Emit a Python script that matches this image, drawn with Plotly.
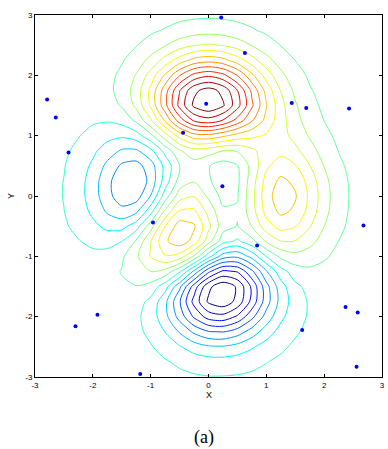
import plotly.graph_objects as go

# grid coordinates
x_vals = [-3 + 0.25 * i for i in range(25)]
y_vals = [-3 + 0.25 * j for j in range(25)]

# surface values (rows = y from -3 to 3, columns = x from -3 to 3)
z_rows = [
    [0.00,0.00,0.00,0.00,0.00,0.01,0.00,-0.01,-0.03,-0.08,-0.14,-0.20,-0.25,-0.25,-0.22,-0.17,-0.11,-0.06,-0.03,-0.01,0.00,0.00,0.00,0.00,0.00],
    [0.00,0.00,0.00,0.00,0.01,0.01,0.00,-0.02,-0.10,-0.22,-0.39,-0.56,-0.68,-0.69,-0.61,-0.46,-0.30,-0.17,-0.08,-0.03,-0.01,0.00,0.00,0.00,0.00],
    [0.00,0.00,0.00,0.01,0.01,0.02,0.00,-0.07,-0.23,-0.53,-0.92,-1.31,-1.57,-1.60,-1.41,-1.06,-0.69,-0.38,-0.18,-0.08,-0.03,-0.01,0.00,0.00,0.00],
    [0.00,0.00,0.01,0.01,0.03,0.04,0.01,-0.12,-0.44,-0.99,-1.74,-2.51,-3.02,-3.10,-2.72,-2.05,-1.32,-0.73,-0.35,-0.14,-0.05,-0.01,0.00,0.00,0.00],
    [0.00,0.00,0.01,0.02,0.05,0.07,0.05,-0.13,-0.59,-1.45,-2.64,-3.88,-4.76,-4.93,-4.35,-3.27,-2.10,-1.15,-0.53,-0.20,-0.06,-0.01,0.00,0.00,0.00],
    [0.00,0.00,0.01,0.03,0.07,0.13,0.15,0.02,-0.46,-1.48,-3.00,-4.70,-5.97,-6.33,-5.64,-4.24,-2.69,-1.42,-0.61,-0.20,-0.04,0.00,0.01,0.00,0.00],
    [0.00,0.00,0.01,0.03,0.08,0.19,0.33,0.39,0.15,-0.68,-2.19,-4.08,-5.68,-6.33,-5.76,-4.32,-2.63,-1.27,-0.44,-0.07,0.04,0.05,0.03,0.01,0.00],
    [0.00,-0.01,-0.01,-0.01,0.03,0.17,0.45,0.84,1.11,0.88,-0.14,-1.84,-3.60,-4.60,-4.40,-3.22,-1.74,-0.56,0.08,0.27,0.23,0.13,0.06,0.02,0.01],
    [-0.01,-0.02,-0.06,-0.10,-0.13,-0.04,0.30,0.98,1.86,2.45,2.22,1.00,-0.72,-2.02,-2.22,-1.43,-0.27,0.58,0.88,0.77,0.50,0.26,0.11,0.04,0.01],
    [-0.02,-0.05,-0.12,-0.25,-0.42,-0.51,-0.28,0.49,1.78,3.09,3.63,2.94,1.40,0.00,-0.41,0.20,1.18,1.79,1.78,1.35,0.82,0.41,0.18,0.06,0.02],
    [-0.03,-0.08,-0.20,-0.44,-0.80,-1.16,-1.21,-0.60,0.80,2.49,3.55,3.30,2.00,0.70,0.39,1.14,2.20,2.76,2.56,1.87,1.12,0.56,0.24,0.09,0.03],
    [-0.03,-0.10,-0.27,-0.60,-1.14,-1.78,-2.16,-1.84,-0.57,1.23,2.56,2.63,1.58,0.53,0.48,1.50,2.76,3.37,3.09,2.25,1.34,0.67,0.28,0.10,0.03],
    [-0.04,-0.11,-0.30,-0.69,-1.33,-2.14,-2.77,-2.71,-1.65,0.06,1.48,1.75,0.98,0.19,0.37,1.57,2.94,3.58,3.27,2.37,1.41,0.70,0.30,0.11,0.03],
    [-0.04,-0.11,-0.29,-0.67,-1.32,-2.16,-2.87,-2.98,-2.15,-0.65,0.68,1.06,0.52,-0.03,0.28,1.47,2.76,3.36,3.06,2.22,1.32,0.66,0.28,0.10,0.03],
    [-0.03,-0.09,-0.25,-0.57,-1.12,-1.85,-2.49,-2.64,-2.00,-0.76,0.39,0.80,0.46,0.09,0.38,1.34,2.38,2.83,2.56,1.84,1.09,0.54,0.23,0.08,0.03],
    [-0.02,-0.07,-0.18,-0.42,-0.82,-1.33,-1.76,-1.78,-1.16,-0.05,1.04,1.55,1.42,1.12,1.17,1.65,2.17,2.32,1.99,1.40,0.82,0.40,0.17,0.06,0.02],
    [-0.01,-0.04,-0.11,-0.25,-0.48,-0.74,-0.86,-0.60,0.23,1.51,2.79,3.59,3.69,3.34,2.93,2.66,2.43,2.08,1.58,1.04,0.58,0.28,0.11,0.04,0.01],
    [-0.01,-0.02,-0.06,-0.12,-0.20,-0.23,-0.05,0.55,1.69,3.29,4.92,6.07,6.39,5.94,5.02,3.97,2.97,2.09,1.35,0.79,0.41,0.19,0.07,0.03,0.01],
    [0.00,-0.01,-0.02,-0.03,-0.01,0.11,0.48,1.27,2.61,4.37,6.20,7.54,8.00,7.48,6.25,4.72,3.25,2.05,1.19,0.62,0.29,0.12,0.05,0.02,0.00],
    [0.00,0.00,0.00,0.01,0.07,0.24,0.65,1.43,2.67,4.29,5.96,7.22,7.67,7.19,5.99,4.45,2.96,1.78,0.96,0.47,0.21,0.08,0.03,0.01,0.00],
    [0.00,0.00,0.01,0.02,0.08,0.23,0.55,1.16,2.10,3.31,4.56,5.51,5.86,5.50,4.57,3.37,2.21,1.29,0.68,0.32,0.13,0.05,0.02,0.00,0.00],
    [0.00,0.00,0.00,0.02,0.06,0.15,0.36,0.74,1.32,2.07,2.84,3.43,3.65,3.43,2.84,2.09,1.36,0.79,0.41,0.19,0.08,0.03,0.01,0.00,0.00],
    [0.00,0.00,0.00,0.01,0.03,0.08,0.19,0.39,0.69,1.07,1.47,1.77,1.89,1.77,1.47,1.08,0.70,0.40,0.21,0.09,0.04,0.01,0.00,0.00,0.00],
    [0.00,0.00,0.00,0.00,0.01,0.04,0.08,0.17,0.30,0.46,0.64,0.77,0.82,0.77,0.64,0.47,0.30,0.17,0.09,0.04,0.02,0.01,0.00,0.00,0.00],
    [0.00,0.00,0.00,0.00,0.01,0.01,0.03,0.06,0.11,0.17,0.23,0.28,0.30,0.28,0.23,0.17,0.11,0.06,0.03,0.01,0.01,0.00,0.00,0.00,0.00],
]

# surface extremes and contour levels
z_min = -6.55
z_max = 8.08
n_levels = 20

# sample points
pts_x = [-2.79, -2.64, -2.42, -0.44, 0.22, 0.63, -0.04, 1.44, 1.69, 2.43, 0.24,
         -0.96, -1.92, -2.30, -1.18, 2.68, 0.84, 2.37, 2.58, 1.62, 2.56]
pts_y = [1.60, 1.30, 0.72, 1.05, 2.96, 2.37, 1.53, 1.54, 1.46, 1.45, 0.16,
         -0.44, -1.97, -2.16, -2.95, -0.49, -0.82, -1.84, -1.93, -2.22, -2.83]

tick_vals = [-3, -2, -1, 0, 1, 2, 3]
tick_text = ["-3", "-2", "-1", "0", "1", "2", "3"]


def jet(t):
    t = min(max(t, 0.0), 1.0)
    def ch(v):
        return max(0.0, min(1.0, v))
    r = ch(1.5 - abs(4 * t - 3))
    g = ch(1.5 - abs(4 * t - 2))
    b = ch(1.5 - abs(4 * t - 1))
    return "rgb(%d,%d,%d)" % (round(r * 255), round(g * 255), round(b * 255))


step = (z_max - z_min) / (n_levels + 1)
lev_start = z_min + step
lev_end = z_min + n_levels * step
cscale = [[k / (n_levels - 1), jet(k / (n_levels - 1))] for k in range(n_levels)]

fig = go.Figure()
fig.add_trace(go.Contour(
    x=x_vals, y=y_vals, z=z_rows,
    contours=dict(start=lev_start, end=lev_end + 1e-6, size=step, coloring="lines"),
    colorscale=cscale,
    line=dict(width=1, smoothing=0.8),
    showscale=False,
    hoverinfo="skip",
))
fig.add_trace(go.Scatter(
    x=pts_x, y=pts_y, mode="markers",
    marker=dict(size=4, color="rgb(0,0,255)"),
    showlegend=False,
))

axis_common = dict(
    range=[-3, 3], tickvals=tick_vals, ticktext=tick_text,
    ticks="inside", ticklen=3, tickwidth=1, tickcolor="black",
    showline=True, linecolor="black", linewidth=1, mirror="ticks",
    showgrid=False, zeroline=False,
    tickfont=dict(family="Liberation Sans, Arial", size=8, color="black"),
)

fig.update_layout(
    width=388, height=449,
    margin=dict(l=35, r=3, t=15, b=72),
    paper_bgcolor="white", plot_bgcolor="white",
    xaxis=axis_common,
    yaxis=axis_common,
    showlegend=False,
    annotations=[
        dict(text="X", xref="paper", yref="paper", x=0.5, y=-0.05,
             xanchor="center", yanchor="middle", showarrow=False,
             font=dict(family="Liberation Sans, Arial", size=9, color="black")),
        dict(text="Y", xref="paper", yref="paper", x=-0.069, y=0.5,
             xanchor="center", yanchor="middle", showarrow=False, textangle=-90,
             font=dict(family="Liberation Sans, Arial", size=9, color="black")),
        dict(text="(a)", xref="paper", yref="paper", x=0.486, y=-0.168,
             xanchor="center", yanchor="middle", showarrow=False,
             font=dict(family="Liberation Serif", size=18, color="black")),
    ],
)

fig.write_html("out.html")
